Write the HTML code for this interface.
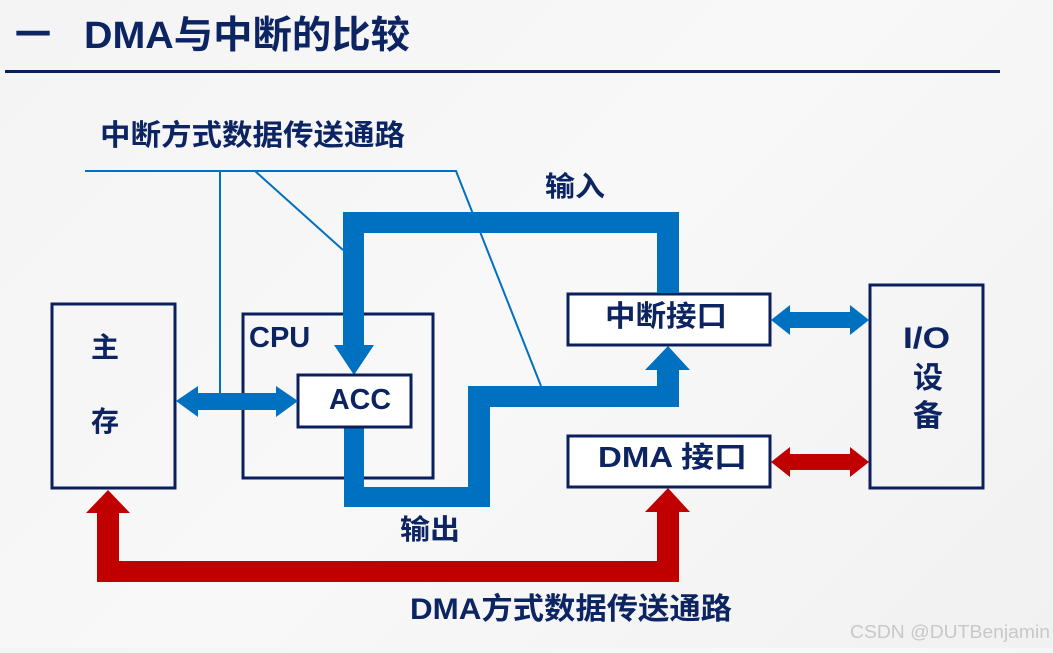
<!DOCTYPE html>
<html><head><meta charset="utf-8"><style>
html,body{margin:0;padding:0;}
body{width:1053px;height:648px;overflow:hidden;background:linear-gradient(135deg,#f4f4f4,#f8f8f8 50%,#f1f1f1);}
text{font-family:"Liberation Sans","Noto Sans CJK SC",sans-serif;font-weight:bold;fill:#0c2461;}
</style></head><body>
<svg width="1053" height="648" viewBox="0 0 1053 648" xmlns="http://www.w3.org/2000/svg">
<text x="15" y="47" font-size="36">一</text>
<text x="84" y="48" font-size="38" textLength="326" lengthAdjust="spacingAndGlyphs">DMA与中断的比较</text>
<rect x="5" y="70" width="995" height="3" fill="#0b1f5c"/>
<text x="100" y="145" font-size="29" textLength="305" lengthAdjust="spacingAndGlyphs">中断方式数据传送通路</text>
<g stroke="#0070c0" stroke-width="2" fill="none">
<polyline points="85,171 456,171 541,386"/>
<line x1="220" y1="171" x2="220" y2="394"/>
<line x1="255" y1="171" x2="343" y2="250"/>
</g>
<g fill="none" stroke="#0b1f5c" stroke-width="3">
<rect x="52" y="304" width="123" height="184"/>
<rect x="243" y="314" width="190" height="164"/>
<rect x="298" y="375" width="113" height="52" fill="#fff"/>
<rect x="568" y="294" width="202" height="51" fill="#fff"/>
<rect x="568" y="436" width="202" height="51" fill="#fff"/>
<rect x="870" y="285" width="113" height="203"/>
</g>
<path d="M657,293 V233 H364 V345 H374 L354,375 L334,345 H343 V212 H679 V293 Z" fill="#0070c0"/>
<path d="M344,427 H364 V487 H468 V386 H657 V370 H645 L668,346 L690,370 H679 V407 H490 V507 H344 Z" fill="#0070c0"/>
<rect x="298" y="375" width="113" height="52" fill="none" stroke="#0b1f5c" stroke-width="3"/>
<path d="M176,401 L198,386 V393 H276 V386 L298,401 L276,417 V410 H198 V417 Z" fill="#0070c0"/>
<path d="M771,320 L790,305 V312 H850 V305 L869,320 L850,335 V328 H790 V335 Z" fill="#0070c0"/>
<path d="M771,462 L790,447 V454 H850 V447 L869,462 L850,477 V470 H790 V477 Z" fill="#c00000"/>
<path d="M97,582 V513 H86 L108,490 L130,513 H119 V561 H657 V512 H645 L668,488 L690,512 H679 V582 Z" fill="#c00000"/>
<text x="91" y="357" font-size="28">主</text>
<text x="91" y="431" font-size="28">存</text>
<text x="249" y="347" font-size="29">CPU</text>
<text x="329" y="409" font-size="29" textLength="62" lengthAdjust="spacingAndGlyphs">ACC</text>
<text x="605" y="326" font-size="29" textLength="122" lengthAdjust="spacingAndGlyphs">中断接口</text>
<text x="598" y="467" font-size="29" textLength="149" lengthAdjust="spacingAndGlyphs">DMA 接口</text>
<text x="903" y="348" font-size="30" textLength="47" lengthAdjust="spacingAndGlyphs">I/O</text>
<text x="913" y="388" font-size="30">设</text>
<text x="913" y="426" font-size="30">备</text>
<text x="545" y="196" font-size="28" textLength="60" lengthAdjust="spacingAndGlyphs">输入</text>
<text x="400" y="539" font-size="28" textLength="60" lengthAdjust="spacingAndGlyphs">输出</text>
<text x="410" y="619" font-size="30" textLength="322" lengthAdjust="spacingAndGlyphs">DMA方式数据传送通路</text>
<text x="850" y="638" font-size="18" textLength="200" lengthAdjust="spacingAndGlyphs" style="font-weight:normal;fill:#c8c8c8">CSDN @DUTBenjamin</text>
</svg>
</body></html>
